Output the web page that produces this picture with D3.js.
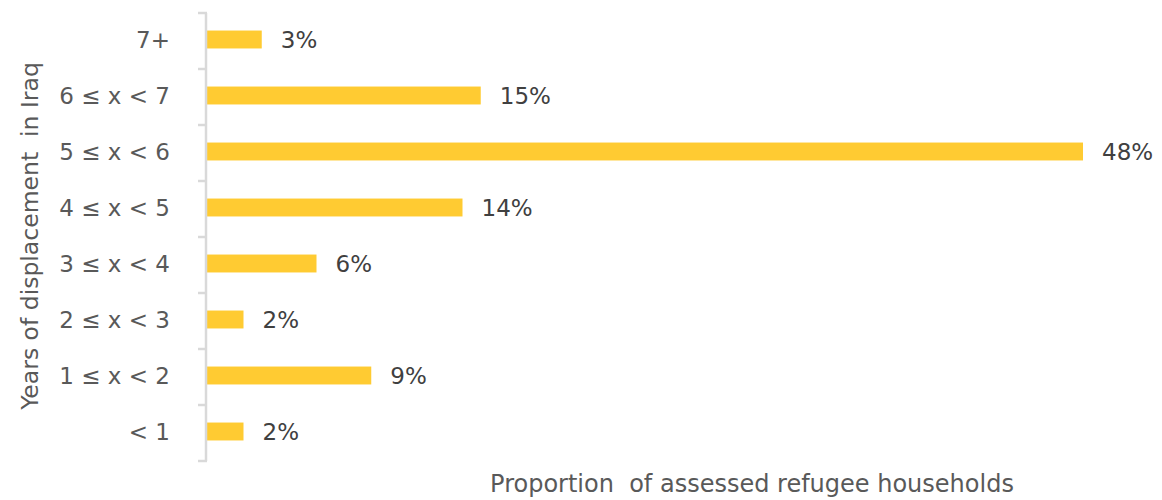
<!DOCTYPE html>
<html><head><meta charset="utf-8">
<script src="https://cdn.jsdelivr.net/npm/d3@7"></script>
<style>body{margin:0;background:#fff;} svg{display:block;font-family:"DejaVu Sans",sans-serif;}</style>
</head><body>
<svg id="c" width="1162" height="500"></svg>
<script>
const categories = ["7+", "6 ≤ x < 7", "5 ≤ x < 6", "4 ≤ x < 5", "3 ≤ x < 4", "2 ≤ x < 3", "1 ≤ x < 2", "< 1"];
const values = [3, 15, 48, 14, 6, 2, 9, 2];
const valueLabels = ["3%", "15%", "48%", "14%", "6%", "2%", "9%", "2%"];
const yTitle = "Years of displacement  in Iraq";
const xTitle = "Proportion  of assessed refugee households";

const svg = d3.select("#c");
const x = d3.scaleLinear().domain([0, 48]).range([207, 1083]);
const y = d3.scaleBand().domain(categories).range([11.5, 459.5]).paddingInner(0.68).paddingOuter(0.34);
const band = d3.scaleBand().domain(categories).range([13, 461]);

// bars
svg.selectAll("rect.bar").data(categories).join("rect")
  .attr("x", x(0)).attr("y", d => y(d))
  .attr("width", (d, i) => x(values[i]) - x(0))
  .attr("height", y.bandwidth())
  .attr("fill", "#FFCB32");

// axis line and ticks
const g = svg.append("g");
g.append("line").attr("x1", 206).attr("x2", 206).attr("y1", 13).attr("y2", 461)
  .attr("stroke", "#d9d9d9").attr("stroke-width", 2.5);
const bounds = categories.map(c => band(c)).concat([461]);
g.selectAll("line.t").data(bounds).join("line")
  .attr("x1", 198).attr("x2", 207).attr("y1", d => d).attr("y2", d => d)
  .attr("stroke", "#d9d9d9").attr("stroke-width", 2.5);

// category labels
svg.selectAll("text.cat").data(categories).join("text")
  .attr("x", 170).attr("y", d => y(d) + y.bandwidth() / 2)
  .attr("text-anchor", "end").attr("dominant-baseline", "central")
  .attr("font-size", 23).attr("fill", "#595959").text(d => d);

// value labels
svg.selectAll("text.val").data(categories).join("text")
  .attr("x", (d, i) => x(values[i]) + 19).attr("y", d => y(d) + y.bandwidth() / 2)
  .attr("dominant-baseline", "central")
  .attr("font-size", 23).attr("fill", "#404040").text((d, i) => valueLabels[i]);

// titles
svg.append("text").attr("transform", "translate(30,236) rotate(-90)")
  .attr("text-anchor", "middle").attr("dominant-baseline", "central")
  .attr("font-size", 23.5).attr("fill", "#595959").style("white-space", "pre").text(yTitle);
svg.append("text").attr("x", 752).attr("y", 484)
  .attr("text-anchor", "middle").attr("dominant-baseline", "central")
  .attr("font-size", 24).attr("fill", "#595959").style("white-space", "pre").text(xTitle);
</script>
</body></html>
